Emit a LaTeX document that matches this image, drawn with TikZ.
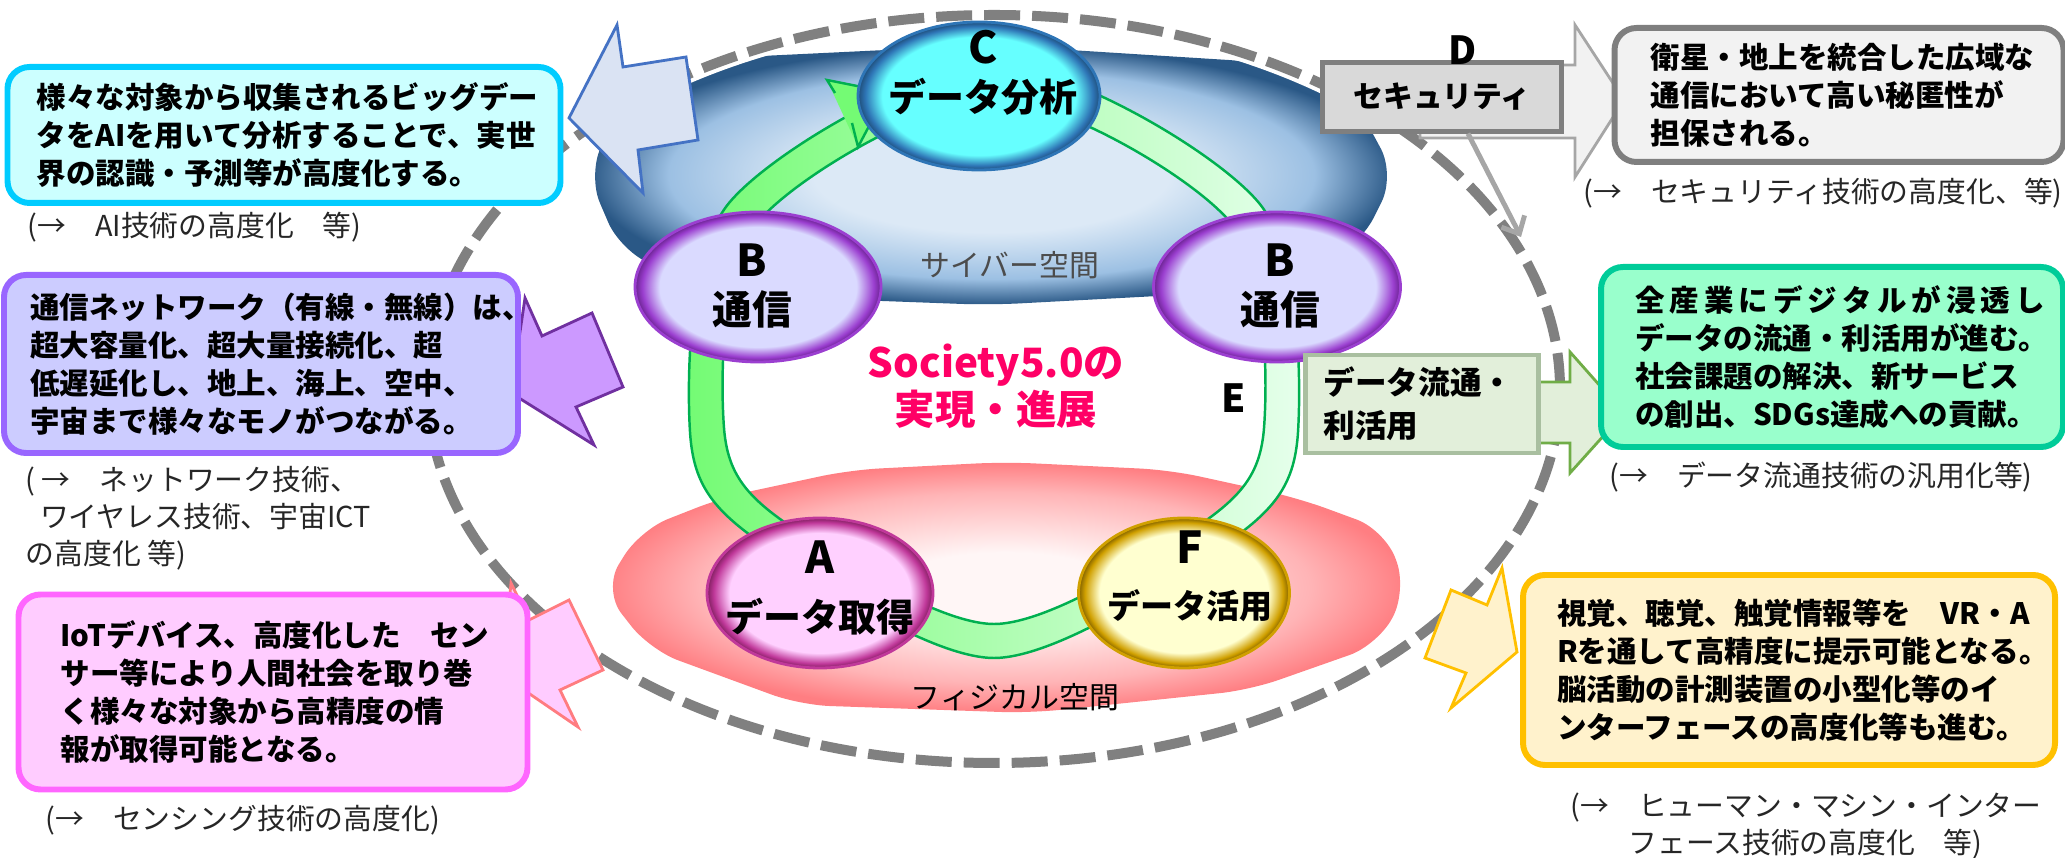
\documentclass[tikz,border=0pt]{standalone}
\usepackage{fontspec}
\setmainfont{Noto Sans CJK JP}
\usetikzlibrary{arrows.meta,positioning,shapes.geometric}

% colours
\definecolor{cyberin}{HTML}{DCE9F6}
\definecolor{cybermid}{HTML}{9CC0E3}
\definecolor{cyberout}{HTML}{2A5886}
\definecolor{physin}{HTML}{FFF6F6}
\definecolor{physmid}{HTML}{FFB4B6}
\definecolor{physout}{HTML}{FF7E82}
\definecolor{ringa}{HTML}{74FB74}
\definecolor{ringb}{HTML}{E6FFEC}
\definecolor{ringline}{HTML}{00B050}
\definecolor{cfill}{HTML}{66FFFF}
\definecolor{crim}{HTML}{2E75B6}
\definecolor{crimdark}{HTML}{1F4E79}
\definecolor{bfill}{HTML}{DADAFF}
\definecolor{brim}{HTML}{9B3FD0}
\definecolor{brimdark}{HTML}{6A2390}
\definecolor{afill}{HTML}{FFD0FF}
\definecolor{arim}{HTML}{C0389A}
\definecolor{arimdark}{HTML}{80205F}
\definecolor{ffill}{HTML}{FFFFD0}
\definecolor{frim}{HTML}{D0A000}
\definecolor{frimdark}{HTML}{806000}
\definecolor{society}{HTML}{FF0066}
\definecolor{aifill}{HTML}{CCFFFF}
\definecolor{ailine}{HTML}{00CCFF}
\definecolor{netfill}{HTML}{CCCCFF}
\definecolor{netline}{HTML}{9966FF}
\definecolor{iotfill}{HTML}{FFCCFF}
\definecolor{iotline}{HTML}{FF66FF}
\definecolor{secfill}{HTML}{F2F2F2}
\definecolor{secline}{HTML}{7F7F7F}
\definecolor{flowfill}{HTML}{99FFCC}
\definecolor{flowline}{HTML}{00CC99}
\definecolor{hmifill}{HTML}{FFF2CC}
\definecolor{hmiline}{HTML}{FFC000}
\definecolor{arrblue}{HTML}{DAE3F3}
\definecolor{arrblueline}{HTML}{4472C4}
\definecolor{arrpurple}{HTML}{CC99FF}
\definecolor{arrpurpleline}{HTML}{7030A0}
\definecolor{arrpinkline}{HTML}{FF7C80}
\definecolor{tagfill}{HTML}{D9D9D9}
\definecolor{flowtagfill}{HTML}{E2EFDA}
\definecolor{flowtagline}{HTML}{A9BFA0}
\definecolor{flowarrline}{HTML}{70AD47}

% radial shadings (path edge at 25bp)
\pgfdeclareradialshading{cyber}{\pgfpointorigin}{color(0bp)=(cyberin); color(11bp)=(cyberin); color(20bp)=(cybermid); color(25bp)=(cyberout); color(50bp)=(cyberout)}
\pgfdeclareradialshading{phys}{\pgfpointorigin}{color(0bp)=(physin); color(7bp)=(physin); color(19bp)=(physmid); color(25bp)=(physout); color(50bp)=(physout)}
\pgfdeclareradialshading{ballc}{\pgfpointorigin}{color(0bp)=(cfill); color(20bp)=(cfill); color(23.5bp)=(crim); color(25bp)=(crimdark); color(50bp)=(crimdark)}
\pgfdeclareradialshading{ballb}{\pgfpointorigin}{color(0bp)=(bfill); color(20bp)=(bfill); color(23.5bp)=(brim); color(25bp)=(brimdark); color(50bp)=(brimdark)}
\pgfdeclareradialshading{balla}{\pgfpointorigin}{color(0bp)=(afill); color(20bp)=(afill); color(23.5bp)=(arim); color(25bp)=(arimdark); color(50bp)=(arimdark)}
\pgfdeclareradialshading{ballf}{\pgfpointorigin}{color(0bp)=(ffill); color(20bp)=(ffill); color(23.5bp)=(frim); color(25bp)=(frimdark); color(50bp)=(frimdark)}

\begin{document}
\begin{tikzpicture}[
    boxtext/.style={font=\bfseries\fontsize{8.4}{10.8}\selectfont},
    infobox/.style={boxtext, rounded corners=0.22cm, line width=1.7pt, inner sep=0pt, align=left},
    note/.style={font=\fontsize{8.2}{10.6}\selectfont, text=black!85, align=left, anchor=west, inner sep=0pt},
    ball/.style={ellipse, shade, shading=ball#1, draw=#1rim, line width=0.8pt, inner sep=0pt},
    balltext/.style={font=\bfseries\fontsize{10.8}{13.8}\selectfont, align=center, inner sep=0pt},
    tagbox/.style={font=\bfseries\fontsize{8.5}{12.2}\selectfont, line width=1.2pt, inner sep=0pt},
    blockarrow/.style={line width=0.8pt, line join=miter},
    ringedge/.style={draw=ringline, line width=0.7pt},
  ]
  \useasboundingbox (0,0) rectangle (20.65,8.58);

  % cyber / physical space
  \shade[shading=cyber, rounded corners=0.3cm] (5.88,6.83) -- (6.25,7.63) -- (7.20,8.00) -- (9.90,8.13) -- (12.60,7.96) -- (13.60,7.48) -- (13.95,6.83) -- (13.60,6.13) -- (12.70,5.68) -- (9.90,5.53) -- (7.20,5.63) -- (6.20,6.08) -- cycle;
  \shade[shading=phys, rounded corners=0.3cm] (6.03,2.68) -- (6.40,3.28) -- (7.24,3.61) -- (8.50,3.88) -- (10.05,3.96) -- (11.70,3.88) -- (12.98,3.60) -- (13.85,3.28) -- (14.07,2.68) -- (13.78,2.13) -- (12.50,1.68) -- (10.30,1.45) -- (8.00,1.53) -- (6.50,2.08) -- cycle;

  % dashed outline
  \draw[white, line width=0.18cm] (9.94,4.69) ellipse [x radius=5.66cm, y radius=3.74cm];
  \draw[black!50, line width=0.1cm, dash pattern=on 0.36cm off 0.12cm] (9.94,4.69) ellipse [x radius=5.66cm, y radius=3.74cm];

  \node[font=\fontsize{8.5}{10}\selectfont, text=black!70] (cyberlbl) at (10.10,5.93) {サイバー空間};
  \node[font=\fontsize{8.5}{10}\selectfont] (physlbl) at (10.15,1.61) {フィジカル空間};
  \node[font=\bfseries\fontsize{11.5}{12.2}\selectfont, text=society, align=center] (society) at (9.96,4.72) {Society5.0の\\実現・進展};

  % green cycle
  \begin{scope}[shift={(9.94,4.58)}]
    \shade[left color=ringa, right color=ringb, even odd rule]
      plot[smooth cycle] coordinates {(0,3.35) (2.65,1.97) (3.04,-0.32) (2.44,-1.35) (0,-2.58) (-2.44,-1.35) (-3.04,-0.32) (-2.65,1.97)}
      plot[smooth cycle] coordinates {(0,3.01) (2.37,1.77) (2.70,-0.28) (2.14,-1.19) (0,-2.24) (-2.14,-1.19) (-2.70,-0.28) (-2.37,1.77)};
    \draw[ringedge] plot[smooth cycle] coordinates {(0,3.35) (2.65,1.97) (3.04,-0.32) (2.44,-1.35) (0,-2.58) (-2.44,-1.35) (-3.04,-0.32) (-2.65,1.97)};
    \draw[ringedge] plot[smooth cycle] coordinates {(0,3.01) (2.37,1.77) (2.70,-0.28) (2.14,-1.19) (0,-2.24) (-2.14,-1.19) (-2.70,-0.28) (-2.37,1.77)};
  \end{scope}
  \fill[ringa] (8.27,7.78) -- (8.87,7.66) -- (8.58,7.11) -- cycle;
  \draw[ringedge] (8.35,7.65) -- (8.27,7.78) -- (8.87,7.66) -- (8.58,7.11) -- (8.52,7.35);

  % spheres
  \node[ball=c, minimum width=2.42cm, minimum height=1.48cm] (analysis) at (9.79,7.62) {};
  \node[ball=b, minimum width=2.46cm, minimum height=1.50cm] (commleft) at (7.58,5.71) {};
  \node[ball=b, minimum width=2.47cm, minimum height=1.50cm] (commright) at (12.77,5.71) {};
  \node[ball=a, minimum width=2.26cm, minimum height=1.50cm] (acquire) at (8.20,2.65) {};
  \node[ball=f, minimum width=2.11cm, minimum height=1.50cm] (utilise) at (11.84,2.65) {};

  \node[balltext] (analysislbl) at (9.83,7.85) {{\fontsize{12.5}{13.8}\selectfont C}\\データ分析};
  \node[balltext, font=\bfseries\fontsize{11.3}{13.8}\selectfont] (commleftlbl) at (7.52,5.72) {{\fontsize{12.5}{13.8}\selectfont B}\\通信};
  \node[balltext, font=\bfseries\fontsize{11.3}{13.8}\selectfont] (commrightlbl) at (12.80,5.72) {{\fontsize{12.5}{13.8}\selectfont B}\\通信};
  \node[balltext, font=\bfseries\fontsize{10.8}{16.7}\selectfont] (acquirelbl) at (8.20,2.70) {{\fontsize{12.5}{16.7}\selectfont A}\\データ取得};
  \node[balltext, font=\bfseries\fontsize{9.4}{15.6}\selectfont] (utiliselbl) at (11.90,2.82) {{\fontsize{12.5}{15.6}\selectfont F}\\データ活用};

  \node[font=\bfseries\fontsize{11}{12}\selectfont] (elbl) at (12.34,4.60) {E};

  % side arrows
  \filldraw[blockarrow, draw=arrblueline, fill=arrblue] (5.69,7.40) -- (6.17,8.33) -- (6.23,7.91) -- (6.86,8.01) -- (6.98,7.18) -- (6.38,7.08) -- (6.43,6.65) -- cycle;
  \filldraw[blockarrow, draw=arrpurpleline, fill=arrpurple] (5.11,4.65) -- (5.25,5.60) -- (5.42,5.22) -- (5.92,5.45) -- (6.23,4.71) -- (5.76,4.51) -- (5.94,4.13) -- cycle;
  \filldraw[blockarrow, draw=arrpinkline, fill=iotfill] (5.02,1.83) -- (5.11,2.75) -- (5.29,2.38) -- (5.69,2.58) -- (6.03,1.88) -- (5.60,1.68) -- (5.78,1.31) -- cycle;
  \filldraw[blockarrow, draw=hmiline, fill=hmifill] (15.17,2.06) -- (15.02,2.90) -- (14.87,2.53) -- (14.51,2.68) -- (14.25,2.00) -- (14.66,1.85) -- (14.51,1.50) -- cycle;

  % security and data flow tags
  \filldraw[blockarrow, draw=black!35, fill=black!5] (14.20,7.93) -- (15.75,7.93) -- (15.75,8.33) -- (16.24,7.58) -- (15.75,6.81) -- (15.75,7.20) -- (14.20,7.20) -- cycle;
  \filldraw[blockarrow, draw=flowarrline, fill=flowtagfill] (15.00,4.76) -- (15.70,4.76) -- (15.70,5.06) -- (16.24,4.45) -- (15.70,3.85) -- (15.70,4.15) -- (15.00,4.15) -- cycle;

  \node[tagbox, draw=secline, fill=tagfill, minimum width=2.39cm, minimum height=0.69cm] (secbox) at (14.42,7.61) {セキュリティ};
  \node[font=\bfseries\fontsize{11}{12}\selectfont] (dlbl) at (14.63,8.08) {D};
  \node[tagbox, font=\bfseries\fontsize{9}{12.2}\selectfont, draw=flowtagline, fill=flowtagfill, minimum width=2.33cm, minimum height=0.98cm, text width=1.97cm, align=left] (flowbox) at (14.22,4.54) {データ流通・\\利活用};

  \coordinate (secend) at (15.21,6.21);
  \draw[black!35, line width=1.4pt, -{Straight Barb[length=0.14cm, width=0.26cm]}] ([xshift=0.26cm]secbox.south) -- (secend);

  % text boxes
  \node[infobox, draw=ailine, fill=aifill, minimum width=5.53cm, minimum height=1.36cm, text width=4.95cm] (aibox) at (2.84,7.23)
    {様々な対象から収集されるビッグデー\\タをAIを用いて分析することで、実世\\界の認識・予測等が高度化する。};
  \node[infobox, draw=netline, fill=netfill, minimum width=5.14cm, minimum height=1.78cm, text width=4.62cm] (netbox) at (2.61,4.94)
    {通信ネットワーク（有線・無線）は、\\超大容量化、超大量接続化、超\\低遅延化し、地上、海上、空中、\\宇宙まで様々なモノがつながる。};
  \node[infobox, draw=iotline, fill=iotfill, minimum width=5.09cm, minimum height=1.95cm, text width=4.25cm] (iotbox) at (2.73,1.66)
    {IoTデバイス、高度化した　セン\\サー等により人間社会を取り巻\\く様々な対象から高精度の情\\報が取得可能となる。};
  \node[infobox, draw=secline, fill=secfill, minimum width=4.49cm, minimum height=1.34cm, text width=3.77cm] (secinfo) at (18.39,7.63)
    {衛星・地上を統合した広域な\\通信において高い秘匿性が\\担保される。};
  \node[infobox, draw=flowline, fill=flowfill, minimum width=4.62cm, minimum height=1.80cm, text width=3.94cm] (flowinfo) at (18.32,5.01)
    {\makebox[4.1cm][s]{全\hfil 産\hfil 業\hfil に\hfil デ\hfil ジ\hfil タ\hfil ル\hfil が\hfil 浸\hfil 透\hfil し}\\データの流通・利活用が進む。\\社会課題の解決、新サービス\\の創出、SDGs達成への貢献。};
  \node[infobox, draw=hmiline, fill=hmifill, minimum width=5.32cm, minimum height=1.90cm, text width=4.64cm] (hmiinfo) at (17.89,1.88)
    {視覚、聴覚、触覚情報等を　VR・A\\Rを通して高精度に提示可能となる。\\脳活動の計測装置の小型化等のイ\\ンターフェースの高度化等も進む。};

  % technology notes
  \node[note] (ainote) at (0.27,6.31) {(→　AI技術の高度化　等)};
  \node[note] (netnote) at (0.25,3.40) {( →　ネットワーク技術、\\\hspace{0.5em}ワイヤレス技術、宇宙ICT\\の高度化 等)};
  \node[note] (iotnote) at (0.45,0.38) {(→　センシング技術の高度化)};
  \node[note] (secnote) at (15.83,6.65) {(→　セキュリティ技術の高度化、等)};
  \node[note] (flownote) at (16.09,3.81) {(→　データ流通技術の汎用化等)};
  \node[note] (hminote) at (15.70,0.32) {(→　ヒューマン・マシン・インター\\\hspace{2em}フェース技術の高度化　等)};
\end{tikzpicture}
\end{document}
